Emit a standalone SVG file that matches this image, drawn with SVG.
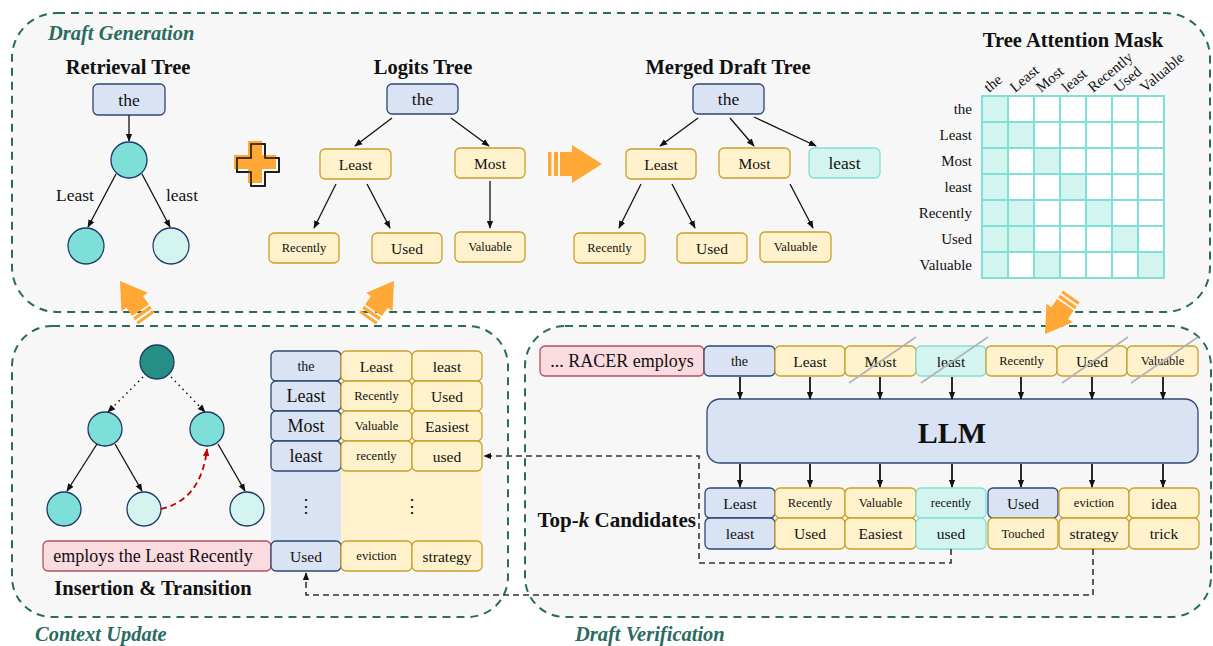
<svg xmlns="http://www.w3.org/2000/svg" xmlns:xlink="http://www.w3.org/1999/xlink" width="1213" height="646" viewBox="0 0 1213 646">
  <style>
    text { font-family: "Liberation Serif", "Times New Roman", serif; fill: #111; dominant-baseline: central; text-anchor: middle; }
    .panel { fill: #f7f7f7; stroke: #2a6b60; stroke-width: 2; stroke-dasharray: 8 6; }
    .ptitle { font-size: 20.5px; font-weight: bold; font-style: italic; fill: #2a6b60; text-anchor: start; dominant-baseline: auto; }
    .htitle { font-size: 20.5px; font-weight: bold; dominant-baseline: auto; }
    .blue { fill: #dae3f3; stroke: #2f4774; stroke-width: 1.3; }
    .yel { fill: #fff2cc; stroke: #c9a02c; stroke-width: 1.3; }
    .tl { fill: #d4f4f0; stroke: #82e0d6; stroke-width: 1.3; }
    .pink { fill: #f9dbe0; stroke: #b5515e; stroke-width: 1.3; }
    .cteal { fill: #7ddfd8; stroke: #1f3864; stroke-width: 1.3; }
    .clight { fill: #d4f4f0; stroke: #1f3864; stroke-width: 1.3; }
    .cdark { fill: #268f85; stroke: #1f3864; stroke-width: 1.3; }
    .edge { stroke: #111; stroke-width: 1.3; fill: none; marker-end: url(#ah); }
    .dotted { stroke: #111; stroke-width: 1.5; fill: none; stroke-dasharray: 1.5 4; marker-end: url(#ah); }
    .thick { stroke: #111; stroke-width: 1.8; fill: none; marker-end: url(#ah); }
    .dash { stroke: #333; stroke-width: 1.6; fill: none; stroke-dasharray: 6 4; marker-end: url(#ah); }
    .strike { stroke: #b3b3b3; stroke-width: 1.6; }
    .s12 { font-size: 12.5px; }
    .s14 { font-size: 14px; }
    .s15 { font-size: 15.5px; }
    .s17 { font-size: 17.5px; }
    .s18 { font-size: 18px; }
    .grid rect { stroke: #7fe0d8; stroke-width: 2; }
    .on { fill: #d4f4f0; }
    .off { fill: #ffffff; }
    .rowlab { font-size: 15px; text-anchor: end; }
    .collab { font-size: 15px; text-anchor: start; dominant-baseline: auto; }
  </style>
  <defs>
    <marker id="ah" viewBox="0 0 10 10" refX="9" refY="5" markerWidth="8" markerHeight="8" markerUnits="userSpaceOnUse" orient="auto">
      <path d="M0,1 L10,5 L0,9 z" fill="#111"/>
    </marker>
    <marker id="ahRed" viewBox="0 0 10 10" refX="9" refY="5" markerWidth="8" markerHeight="8" markerUnits="userSpaceOnUse" orient="auto">
      <path d="M0,1 L10,5 L0,9 z" fill="#c00000"/>
    </marker>
    <!-- striped block arrow, tip at origin, pointing +x -->
    <g id="fatArrow" fill="#ffa836">
      <rect x="-54" y="-12" width="3.5" height="24"/>
      <rect x="-48" y="-12" width="4" height="24"/>
      <rect x="-42" y="-12" width="13" height="24"/>
      <polygon points="-30,-19 0,0 -30,19"/>
    </g>
    <path id="plusShape" d="M0,0 h14 v14 h14 v14 h-14 v14 h-14 v-14 h-14 v-14 h14 z"/>
  </defs>

  <!-- panels -->
  <g id="panels">
    <rect class="panel" x="12" y="13" width="1198" height="299" rx="45"/>
    <rect class="panel" x="12" y="326" width="496" height="291" rx="40"/>
    <rect class="panel" x="525" y="326" width="686" height="291" rx="40"/>
    <text class="ptitle" x="48" y="40">Draft Generation</text>
    <text class="ptitle" x="35" y="641">Context Update</text>
    <text class="ptitle" x="575" y="641">Draft Verification</text>
  </g>

  <!-- Retrieval tree -->
  <g id="retrieval-tree">
    <text class="htitle" x="128" y="74">Retrieval Tree</text>
    <rect class="blue" x="93" y="84" width="72" height="31" rx="5"/>
    <text class="s17" x="129" y="100">the</text>
    <circle class="cteal" cx="129" cy="160" r="18"/>
    <circle class="cteal" cx="86" cy="246" r="18"/>
    <circle class="clight" cx="171" cy="246" r="18"/>
    <text class="s17" x="75" y="195">Least</text>
    <text class="s17" x="182" y="195">least</text>
  </g>

  <!-- plus sign: white outlined cross behind an offset orange cross -->
  <g id="plus">
    <use href="#plusShape" transform="translate(251,144)" fill="#ffffff" stroke="#111" stroke-width="1.5"/>
    <use href="#plusShape" transform="translate(248,141)" fill="#ffa836"/>
    <use href="#plusShape" transform="translate(251,144)" fill="none" stroke="#111" stroke-width="1.5"/>
  </g>

  <!-- Logits tree -->
  <g id="logits-tree">
    <text class="htitle" x="423" y="74">Logits Tree</text>
    <rect class="blue" x="387" y="84" width="71" height="30" rx="5"/>
    <text class="s17" x="422.5" y="99">the</text>
    <rect class="yel" x="320" y="149" width="71" height="30" rx="5"/>
    <text class="s15" x="355.5" y="164">Least</text>
    <rect class="yel" x="455" y="148" width="70" height="30" rx="5"/>
    <text class="s15" x="490" y="163">Most</text>
    <rect class="yel" x="269" y="233" width="70" height="30" rx="5"/>
    <text class="s12" x="304" y="248">Recently</text>
    <rect class="yel" x="372" y="233" width="70" height="30" rx="5"/>
    <text class="s15" x="407" y="248">Used</text>
    <rect class="yel" x="455" y="232" width="70" height="30" rx="5"/>
    <text class="s12" x="490" y="247">Valuable</text>
  </g>

  <!-- Merged draft tree -->
  <g id="merged-tree">
    <text class="htitle" x="728" y="74">Merged Draft Tree</text>
    <rect class="blue" x="693" y="84" width="71" height="30" rx="5"/>
    <text class="s17" x="728.5" y="99">the</text>
    <rect class="yel" x="626" y="149" width="70" height="30" rx="5"/>
    <text class="s15" x="661" y="164">Least</text>
    <rect class="yel" x="719" y="148" width="71" height="30" rx="5"/>
    <text class="s15" x="754.5" y="163">Most</text>
    <rect class="tl" x="809" y="148" width="71" height="30" rx="5"/>
    <text class="s17" x="844.5" y="163">least</text>
    <rect class="yel" x="574" y="233" width="71" height="30" rx="5"/>
    <text class="s12" x="609.5" y="248">Recently</text>
    <rect class="yel" x="677" y="233" width="70" height="30" rx="5"/>
    <text class="s15" x="712" y="248">Used</text>
    <rect class="yel" x="760" y="232" width="71" height="30" rx="5"/>
    <text class="s12" x="795.5" y="247">Valuable</text>
  </g>

  <!-- Tree attention mask -->
  <g id="attention-mask">
    <text class="htitle" x="1073" y="47">Tree Attention Mask</text>
    <g class="grid">
      <!-- row: the -->
      <rect class="on" x="982" y="96" width="26" height="26"/><rect class="off" x="1008" y="96" width="26" height="26"/><rect class="off" x="1034" y="96" width="26" height="26"/><rect class="off" x="1060" y="96" width="26" height="26"/><rect class="off" x="1086" y="96" width="26" height="26"/><rect class="off" x="1112" y="96" width="26" height="26"/><rect class="off" x="1138" y="96" width="26" height="26"/>
      <!-- row: Least -->
      <rect class="on" x="982" y="122" width="26" height="26"/><rect class="on" x="1008" y="122" width="26" height="26"/><rect class="off" x="1034" y="122" width="26" height="26"/><rect class="off" x="1060" y="122" width="26" height="26"/><rect class="off" x="1086" y="122" width="26" height="26"/><rect class="off" x="1112" y="122" width="26" height="26"/><rect class="off" x="1138" y="122" width="26" height="26"/>
      <!-- row: Most -->
      <rect class="on" x="982" y="148" width="26" height="26"/><rect class="off" x="1008" y="148" width="26" height="26"/><rect class="on" x="1034" y="148" width="26" height="26"/><rect class="off" x="1060" y="148" width="26" height="26"/><rect class="off" x="1086" y="148" width="26" height="26"/><rect class="off" x="1112" y="148" width="26" height="26"/><rect class="off" x="1138" y="148" width="26" height="26"/>
      <!-- row: least -->
      <rect class="on" x="982" y="174" width="26" height="26"/><rect class="off" x="1008" y="174" width="26" height="26"/><rect class="off" x="1034" y="174" width="26" height="26"/><rect class="on" x="1060" y="174" width="26" height="26"/><rect class="off" x="1086" y="174" width="26" height="26"/><rect class="off" x="1112" y="174" width="26" height="26"/><rect class="off" x="1138" y="174" width="26" height="26"/>
      <!-- row: Recently -->
      <rect class="on" x="982" y="200" width="26" height="26"/><rect class="on" x="1008" y="200" width="26" height="26"/><rect class="off" x="1034" y="200" width="26" height="26"/><rect class="off" x="1060" y="200" width="26" height="26"/><rect class="on" x="1086" y="200" width="26" height="26"/><rect class="off" x="1112" y="200" width="26" height="26"/><rect class="off" x="1138" y="200" width="26" height="26"/>
      <!-- row: Used -->
      <rect class="on" x="982" y="226" width="26" height="26"/><rect class="on" x="1008" y="226" width="26" height="26"/><rect class="off" x="1034" y="226" width="26" height="26"/><rect class="off" x="1060" y="226" width="26" height="26"/><rect class="off" x="1086" y="226" width="26" height="26"/><rect class="on" x="1112" y="226" width="26" height="26"/><rect class="off" x="1138" y="226" width="26" height="26"/>
      <!-- row: Valuable -->
      <rect class="on" x="982" y="252" width="26" height="26"/><rect class="off" x="1008" y="252" width="26" height="26"/><rect class="on" x="1034" y="252" width="26" height="26"/><rect class="off" x="1060" y="252" width="26" height="26"/><rect class="off" x="1086" y="252" width="26" height="26"/><rect class="off" x="1112" y="252" width="26" height="26"/><rect class="on" x="1138" y="252" width="26" height="26"/>
    </g>
    <text class="rowlab" x="972" y="109">the</text>
    <text class="rowlab" x="972" y="135">Least</text>
    <text class="rowlab" x="972" y="161">Most</text>
    <text class="rowlab" x="972" y="187">least</text>
    <text class="rowlab" x="972" y="213">Recently</text>
    <text class="rowlab" x="972" y="239">Used</text>
    <text class="rowlab" x="972" y="265">Valuable</text>
    <text class="collab" transform="translate(989,93) rotate(-40)">the</text>
    <text class="collab" transform="translate(1015,93) rotate(-40)">Least</text>
    <text class="collab" transform="translate(1041,93) rotate(-40)">Most</text>
    <text class="collab" transform="translate(1067,93) rotate(-40)">least</text>
    <text class="collab" transform="translate(1093,93) rotate(-40)">Recently</text>
    <text class="collab" transform="translate(1119,93) rotate(-40)">Used</text>
    <text class="collab" transform="translate(1145,93) rotate(-40)">Valuable</text>
  </g>

  <!-- Context update: tree -->
  <g id="insertion-tree">
    <circle class="cdark" cx="157" cy="362" r="17"/>
    <circle class="cteal" cx="105" cy="429" r="17"/>
    <circle class="cteal" cx="207" cy="429" r="17"/>
    <circle class="cteal" cx="64" cy="509" r="17"/>
    <circle class="clight" cx="144" cy="509" r="17"/>
    <circle class="clight" cx="247" cy="509" r="17"/>
    <rect class="pink" x="43" y="541" width="228" height="30" rx="5"/>
    <text class="s18" x="153" y="556">employs the Least Recently</text>
    <text class="htitle" x="153" y="595">Insertion &amp; Transition</text>
  </g>

  <!-- Context update: n-gram table -->
  <g id="ngram-table">
    <rect x="271" y="471" width="70" height="70" fill="#dae3f3"/>
    <rect x="341" y="471" width="141" height="70" fill="#fff2cc"/>
    <rect class="blue" x="271" y="351" width="70" height="30" rx="5"/>
    <rect class="blue" x="271" y="381" width="70" height="30" rx="5"/>
    <rect class="blue" x="271" y="411" width="70" height="30" rx="5"/>
    <rect class="blue" x="271" y="441" width="70" height="30" rx="5"/>
    <rect class="blue" x="271" y="541" width="70" height="30" rx="5"/>
    <rect class="yel" x="341" y="351" width="71" height="30" rx="5"/>
    <rect class="yel" x="412" y="351" width="70" height="30" rx="5"/>
    <rect class="yel" x="341" y="381" width="71" height="30" rx="5"/>
    <rect class="yel" x="412" y="381" width="70" height="30" rx="5"/>
    <rect class="yel" x="341" y="411" width="71" height="30" rx="5"/>
    <rect class="yel" x="412" y="411" width="70" height="30" rx="5"/>
    <rect class="yel" x="341" y="441" width="71" height="30" rx="5"/>
    <rect class="yel" x="412" y="441" width="70" height="30" rx="5"/>
    <rect class="yel" x="341" y="541" width="71" height="30" rx="5"/>
    <rect class="yel" x="412" y="541" width="70" height="30" rx="5"/>
    <text class="s14" x="306" y="366">the</text>
    <text class="s18" x="306" y="396">Least</text>
    <text class="s18" x="306" y="426">Most</text>
    <text class="s18" x="306" y="456">least</text>
    <text class="s17" x="306" y="506">⋮</text>
    <text class="s15" x="306" y="556">Used</text>
    <text class="s15" x="376.5" y="366">Least</text>
    <text class="s12" x="376.5" y="396">Recently</text>
    <text class="s12" x="376.5" y="426">Valuable</text>
    <text class="s12" x="376.5" y="456">recently</text>
    <text class="s17" x="412" y="506">⋮</text>
    <text class="s12" x="376.5" y="556">eviction</text>
    <text class="s15" x="447" y="366">least</text>
    <text class="s15" x="447" y="396">Used</text>
    <text class="s15" x="447" y="426">Easiest</text>
    <text class="s15" x="447" y="456">used</text>
    <text class="s15" x="447" y="556">strategy</text>
  </g>

  <!-- Draft verification: input tokens -->
  <g id="input-tokens">
    <rect class="pink" x="540" y="346" width="164" height="30" rx="5"/>
    <text class="s18" x="622" y="361">... RACER employs</text>
    <rect class="blue" x="704" y="346" width="71" height="30" rx="5"/>
    <text class="s14" x="739.5" y="361">the</text>
    <rect class="yel" x="775" y="346" width="70" height="30" rx="5"/>
    <text class="s15" x="810" y="361">Least</text>
    <rect class="yel" x="845" y="346" width="71" height="30" rx="5"/>
    <text class="s15" x="880.5" y="361">Most</text>
    <rect class="tl" x="916" y="346" width="70" height="30" rx="5"/>
    <text class="s15" x="951" y="361">least</text>
    <rect class="yel" x="986" y="346" width="71" height="30" rx="5"/>
    <text class="s12" x="1021.5" y="361">Recently</text>
    <rect class="yel" x="1057" y="346" width="70" height="30" rx="5"/>
    <text class="s15" x="1092" y="361">Used</text>
    <rect class="yel" x="1127" y="346" width="71" height="30" rx="5"/>
    <text class="s12" x="1162.5" y="361">Valuable</text>
    <line class="strike" x1="849" y1="383" x2="916" y2="337"/>
    <line class="strike" x1="921" y1="383" x2="988" y2="337"/>
    <line class="strike" x1="1062" y1="383" x2="1128" y2="337"/>
    <line class="strike" x1="1131" y1="383" x2="1198" y2="337"/>
  </g>

  <!-- Draft verification: model -->
  <g id="llm">
    <rect class="blue" x="707" y="399" width="491" height="64" rx="13"/>
    <text x="952" y="432" style="font-size:30px;font-weight:bold">LLM</text>
  </g>

  <!-- Draft verification: top-k candidates -->
  <g id="candidates">
    <text x="696" y="520" style="font-size:21px;font-weight:bold;text-anchor:end">Top-<tspan font-style="italic">k</tspan> Candidates</text>
    <rect class="blue" x="705" y="488" width="70" height="30" rx="5"/>
    <rect class="blue" x="705" y="518" width="70" height="31" rx="5"/>
    <rect class="yel" x="775" y="488" width="70" height="30" rx="5"/>
    <rect class="yel" x="775" y="518" width="70" height="31" rx="5"/>
    <rect class="yel" x="845" y="488" width="71" height="30" rx="5"/>
    <rect class="yel" x="845" y="518" width="71" height="31" rx="5"/>
    <rect class="tl" x="916" y="488" width="70" height="30" rx="5"/>
    <rect class="tl" x="916" y="518" width="70" height="31" rx="5"/>
    <rect class="blue" x="988" y="488" width="70" height="30" rx="5"/>
    <rect class="yel" x="988" y="518" width="70" height="31" rx="5"/>
    <rect class="yel" x="1059" y="488" width="70" height="30" rx="5"/>
    <rect class="yel" x="1059" y="518" width="70" height="31" rx="5"/>
    <rect class="yel" x="1129" y="488" width="70" height="30" rx="5"/>
    <rect class="yel" x="1129" y="518" width="70" height="31" rx="5"/>
    <text class="s15" x="740" y="503">Least</text>
    <text class="s15" x="740" y="533.5">least</text>
    <text class="s12" x="810" y="503">Recently</text>
    <text class="s15" x="810" y="533.5">Used</text>
    <text class="s12" x="880.5" y="503">Valuable</text>
    <text class="s15" x="880.5" y="533.5">Easiest</text>
    <text class="s12" x="951" y="503">recently</text>
    <text class="s15" x="951" y="533.5">used</text>
    <text class="s15" x="1023" y="503">Used</text>
    <text class="s12" x="1023" y="533.5">Touched</text>
    <text class="s12" x="1094" y="503">eviction</text>
    <text class="s15" x="1094" y="533.5">strategy</text>
    <text class="s15" x="1164" y="503">idea</text>
    <text class="s15" x="1164" y="533.5">trick</text>
  </g>

  <!-- block arrows between stages -->
  <g id="stage-arrows">
    <use href="#fatArrow" transform="translate(602,164)"/>
    <use href="#fatArrow" transform="translate(120,281) rotate(-125) scale(0.85)"/>
    <use href="#fatArrow" transform="translate(394,281) rotate(-55) scale(0.85)"/>
    <use href="#fatArrow" transform="translate(1045,334) rotate(125) scale(0.85)"/>
  </g>

  <!-- connectors -->
  <g id="connectors">
    <!-- retrieval tree -->
    <line class="edge" x1="129" y1="115" x2="129" y2="141"/>
    <line class="edge" x1="116" y1="174" x2="88" y2="227"/>
    <line class="edge" x1="142" y1="174" x2="170" y2="227"/>
    <!-- logits tree -->
    <line class="edge" x1="392" y1="118" x2="355" y2="146"/>
    <line class="edge" x1="451" y1="118" x2="489" y2="146"/>
    <line class="edge" x1="336" y1="184" x2="314" y2="228"/>
    <line class="edge" x1="367" y1="184" x2="390" y2="228"/>
    <line class="edge" x1="490" y1="181" x2="490" y2="228"/>
    <!-- merged tree -->
    <line class="edge" x1="698" y1="118" x2="660" y2="146"/>
    <line class="edge" x1="730" y1="118" x2="754" y2="146"/>
    <line class="edge" x1="754" y1="117" x2="816" y2="146"/>
    <line class="edge" x1="641" y1="184" x2="619" y2="228"/>
    <line class="edge" x1="672" y1="184" x2="695" y2="228"/>
    <line class="edge" x1="790" y1="184" x2="813" y2="228"/>
    <!-- insertion tree -->
    <line class="dotted" x1="143" y1="377" x2="108" y2="412"/>
    <line class="dotted" x1="171" y1="377" x2="205" y2="412"/>
    <line class="edge" x1="97" y1="444" x2="67" y2="491"/>
    <line class="edge" x1="115" y1="444" x2="142" y2="491"/>
    <line class="edge" x1="218" y1="444" x2="245" y2="491"/>
    <path d="M161,509 Q201,500 207,449" fill="none" stroke="#c00000" stroke-width="1.8" stroke-dasharray="6 4" marker-end="url(#ahRed)"/>
    <!-- into and out of the LLM -->
    <line class="thick" x1="740" y1="377" x2="740" y2="399"/>
    <line class="thick" x1="810" y1="377" x2="810" y2="399"/>
    <line class="thick" x1="880" y1="377" x2="880" y2="399"/>
    <line class="thick" x1="952" y1="377" x2="952" y2="399"/>
    <line class="thick" x1="1021" y1="377" x2="1021" y2="399"/>
    <line class="thick" x1="1092" y1="377" x2="1092" y2="399"/>
    <line class="thick" x1="1163" y1="377" x2="1163" y2="399"/>
    <line class="thick" x1="740" y1="464" x2="740" y2="487"/>
    <line class="thick" x1="810" y1="464" x2="810" y2="487"/>
    <line class="thick" x1="880" y1="464" x2="880" y2="487"/>
    <line class="thick" x1="952" y1="464" x2="952" y2="487"/>
    <line class="thick" x1="1021" y1="464" x2="1021" y2="487"/>
    <line class="thick" x1="1092" y1="464" x2="1092" y2="487"/>
    <line class="thick" x1="1163" y1="464" x2="1163" y2="487"/>
    <!-- feedback into the n-gram table -->
    <path class="dash" d="M951,549 V563 H699 V456 H484"/>
    <path class="dash" d="M1093,549 V595 H306 V573"/>
  </g>
</svg>
